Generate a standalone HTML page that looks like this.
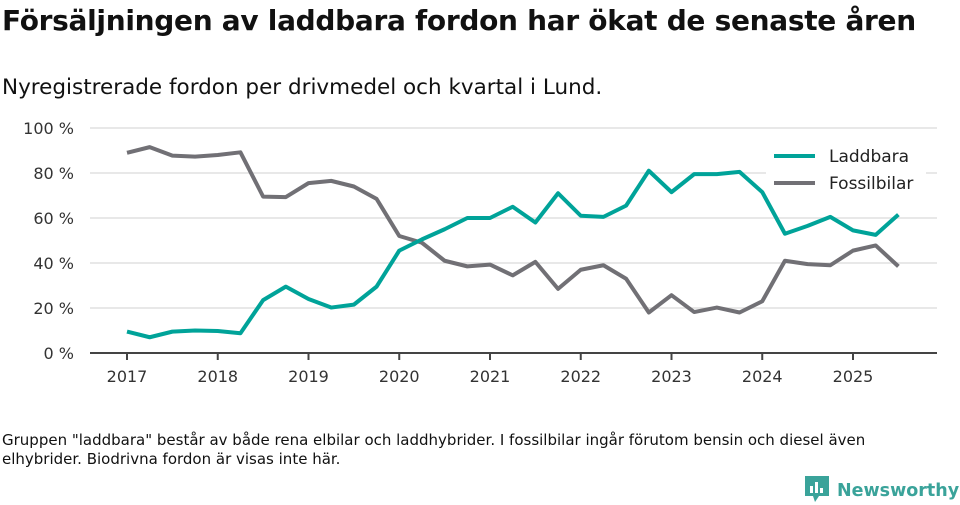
<!DOCTYPE html>
<html><head><meta charset="utf-8"><style>
body{margin:0;width:960px;height:505px;background:#fff;font-family:"Liberation Sans","DejaVu Sans",sans-serif;color:#111;overflow:hidden;position:relative}
#title{position:absolute;left:2px;top:4px;font-size:28px;font-weight:bold;font-family:"DejaVu Sans",sans-serif;letter-spacing:-0.3px;margin:0;white-space:nowrap}
#sub{position:absolute;left:2px;top:75px;font-size:21.5px;font-family:"DejaVu Sans",sans-serif;white-space:nowrap}
#note{position:absolute;left:2px;top:431px;font-size:15px;line-height:19px;font-family:"DejaVu Sans",sans-serif;width:900px}
#logo{position:absolute;left:805px;top:476px;font-size:17.5px;color:#3aa39a;font-weight:bold;font-family:"DejaVu Sans",sans-serif;white-space:nowrap}
svg{position:absolute;left:0;top:0}
</style></head><body>
<h1 id="title">Försäljningen av laddbara fordon har ökat de senaste åren</h1>
<div id="sub">Nyregistrerade fordon per drivmedel och kvartal i Lund.</div>
<svg id="chart" width="960" height="505"></svg>
<div id="note">Gruppen "laddbara" består av både rena elbilar och laddhybrider. I fossilbilar ingår förutom bensin och diesel även elhybrider. Biodrivna fordon är visas inte här.</div>
<div id="logo"><svg width="24" height="26" style="position:static;vertical-align:-6px;margin-right:8px"><rect x="0" y="0" width="24" height="20" fill="#3aa39a"/><polygon points="8,20 14,20 10,26" fill="#3aa39a"/><rect x="5" y="10" width="3" height="7" fill="#fff"/><rect x="10" y="6" width="3" height="11" fill="#fff"/><rect x="15" y="12" width="3" height="5" fill="#fff"/></svg>Newsworthy</div>
<script>
const years=["2017","2018","2019","2020","2021","2022","2023","2024","2025"];
const yTicks=[0,20,40,60,80,100];
const laddbara=[9.5,7,9.5,10,9.8,8.8,23.5,29.5,24,20.2,21.5,29.5,45.5,50.5,55,60,60,65,58,71,61,60.5,65.5,81,71.5,79.5,79.5,80.5,71.5,53,56.5,60.5,54.5,52.5,61.5];
const fossil=[89,91.5,87.7,87.3,88,89.2,69.5,69.3,75.5,76.5,74,68.5,52,49,41,38.5,39.3,34.5,40.5,28.5,37,39,33,18,25.7,18.2,20.2,18,23,41,39.5,39,45.5,47.8,38.5];
const NS="http://www.w3.org/2000/svg";
const svg=document.getElementById('chart');
const x=q=>127+q*(726/32);
const y=v=>353-v*2.25;
function mk(t,a){const e=document.createElementNS(NS,t);for(const k in a)e.setAttribute(k,a[k]);svg.appendChild(e);return e;}
yTicks.forEach(v=>{
  if(v>0){const g=mk('line',{x1:90,x2:937,y1:y(v),y2:y(v),stroke:'#e0e0e0','stroke-width':1.5});
  
  }
  const t=mk('text',{x:74,y:y(v)+6,'text-anchor':'end','font-size':16,fill:'#333','font-family':'DejaVu Sans,sans-serif'});
  t.textContent=v+' %';
  
  
});
const ax=mk('line',{x1:90,x2:937,y1:353,y2:353,stroke:'#444','stroke-width':2});


years.forEach((yr,i)=>{
  const xx=x(i*4);
  mk('line',{x1:xx,x2:xx,y1:353,y2:360,stroke:'#444','stroke-width':2});
  const t=mk('text',{x:xx,y:382,'text-anchor':'middle','font-size':16,fill:'#333','font-family':'DejaVu Sans,sans-serif'});
  t.textContent=yr;
  
  
});
const lg=mk('rect',{x:766,y:142,width:160,height:60,fill:'#fff'});


function line(d,c,n){
  const p=mk('polyline',{points:d.map((v,i)=>x(i)+','+y(v)).join(' '),fill:'none',stroke:c,'stroke-width':4,'stroke-linejoin':'round'});
  
  
}
line(fossil,'#717075','fossil-line');
line(laddbara,'#00a399','laddbara-line');
[['Laddbara','#00a399'],['Fossilbilar','#717075']].forEach((e,i)=>{
  const yy=156+i*27;
  mk('line',{x1:774,x2:815,y1:yy,y2:yy,stroke:e[1],'stroke-width':4});
  const t=mk('text',{x:829,y:yy+6,'font-size':17,fill:'#222','font-family':'DejaVu Sans,sans-serif'});
  t.textContent=e[0];
  
  
});
</script>
</body></html>
